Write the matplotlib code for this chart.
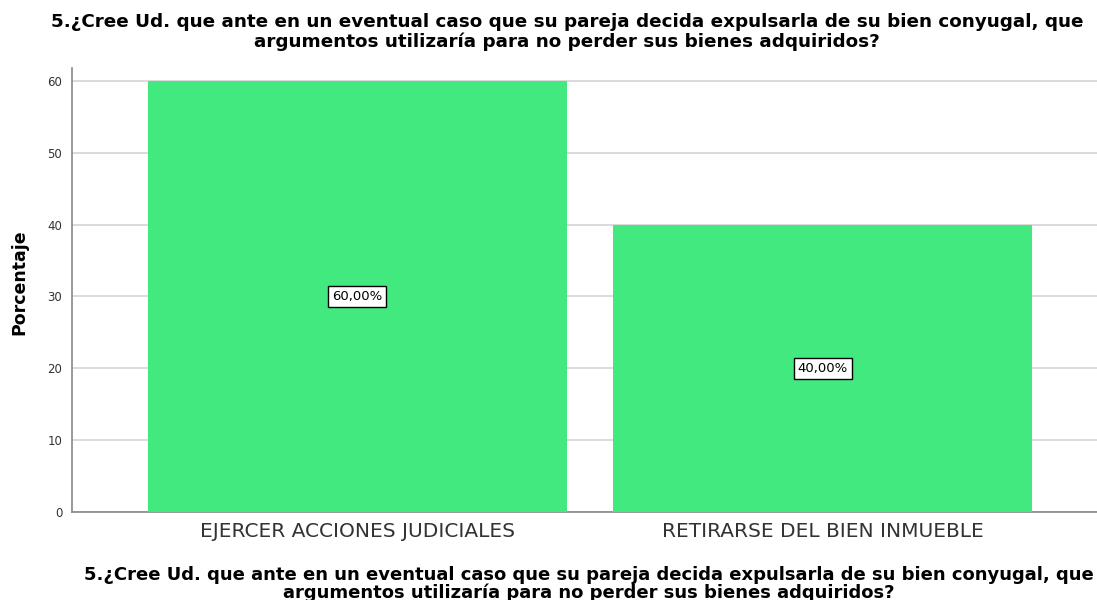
import matplotlib
matplotlib.use("Agg")
import matplotlib.pyplot as plt

categories = ["EJERCER ACCIONES JUDICIALES", "RETIRARSE DEL BIEN INMUEBLE"]
values = [60.0, 40.0]
labels = ["60,00%", "40,00%"]
yticks = [0, 10, 20, 30, 40, 50, 60]
title = "5.¿Cree Ud. que ante en un eventual caso que su pareja decida expulsarla de su bien conyugal, que\nargumentos utilizaría para no perder sus bienes adquiridos?"

plt.rcParams['font.family'] = ['DejaVu Sans']

fig = plt.figure(figsize=(10.97, 6.0), dpi=100)
ax = fig.add_axes([72/1097, 1-512/600, 1-72/1097, (512-68)/600])

x = list(range(len(categories)))
ax.bar(x, values, width=0.9, color="#42e97f", zorder=3)
ax.set_xlim(-0.613, 1.589)
ax.set_ylim(0, 61.8)
ax.set_yticks(yticks)
ax.set_yticklabels([str(t) for t in yticks], fontsize=8.5, color="#333333")
ax.set_xticks(x)
ax.set_xticklabels(categories, fontsize=14.5, color="#333333")
ax.tick_params(axis='x', length=0, pad=7)
ax.tick_params(axis='y', length=0, pad=7)
ax.grid(axis='y', color="#d4d4d4", linewidth=1.2, zorder=0)
for s in ["top", "right"]:
    ax.spines[s].set_visible(False)
for s in ["left", "bottom"]:
    ax.spines[s].set_color("#888888")
    ax.spines[s].set_linewidth(1.2)

for xi, v, lab in zip(x, values, labels):
    ax.text(xi, v/2, lab, ha='center', va='center', fontsize=9.5, color='black', zorder=5,
            bbox=dict(boxstyle='square,pad=0.3', facecolor='white', edgecolor='black', linewidth=1.0))

fig.text(19/1097, 1-282/600, "Porcentaje", rotation=90, ha='center', va='center',
         fontsize=12.5, fontweight='bold')

fig.text(567/1097, 1-32/600, title, ha='center', va='center', fontsize=13.2, fontweight='bold', linespacing=1.05)
fig.text(589/1097, 1-584/600, title, ha='center', va='center', fontsize=13, fontweight='bold', linespacing=0.95)

fig.savefig("out.png", dpi=100)
